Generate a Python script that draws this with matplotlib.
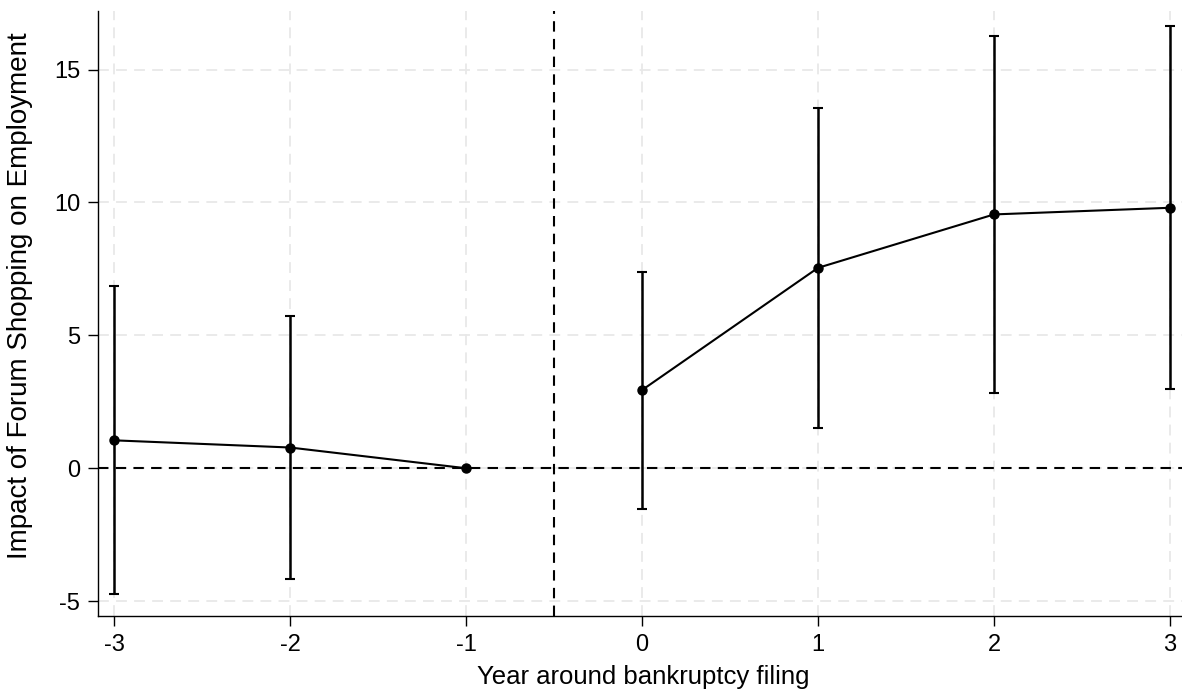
import numpy as np
from matplotlib import pyplot as plt

# event-study estimates
years = [-3, -2, -1, 0, 1, 2, 3]
coef = [1.05, 0.78, 0.0, 2.94, 7.54, 9.55, 9.80]
ci_low = [-4.75, -4.17, 0.0, -1.54, 1.51, 2.83, 2.97]
ci_high = [6.87, 5.73, 0.0, 7.40, 13.54, 16.28, 16.63]

yticks = [-5, 0, 5, 10, 15]
tick_labels = ["-5", "0", "5", "10", "15"]

plt.rcParams['font.family'] = ['Liberation Sans', 'DejaVu Sans']

fig = plt.figure(figsize=(11.82, 6.94), dpi=100)
ax = fig.add_axes([0.083, 0.112, 0.917, 0.872])

# grid
for x in years:
    ax.axvline(x, color='#e8e8e8', lw=1.3, ls=(0, (6, 4)), zorder=0)
for y in yticks:
    ax.axhline(y, color='#e8e8e8', lw=1.3, ls=(0, (6, 4)), zorder=0)

# reference lines
ax.axhline(0, color='black', lw=1.5, ls=(0, (5, 3.5)), zorder=1)
ax.axvline(-0.5, color='black', lw=1.5, ls=(0, (5, 3.5)), zorder=1)

# confidence intervals (skip the omitted year)
coef_a = np.array(coef)
lo = np.array(ci_low)
hi = np.array(ci_high)
mask = hi > lo
ax.errorbar(np.array(years)[mask], coef_a[mask],
            yerr=[coef_a[mask] - lo[mask], hi[mask] - coef_a[mask]],
            fmt='none', ecolor='black', elinewidth=1.8, capsize=3.3, capthick=1.5, zorder=2)

# point estimates, before and after filing
pre = [i for i, yr in enumerate(years) if yr < 0]
post = [i for i, yr in enumerate(years) if yr >= 0]
for idx in (pre, post):
    ax.plot([years[i] for i in idx], [coef[i] for i in idx], color='black', lw=1.5,
            marker='o', markersize=6.5, zorder=3)

ax.set_xlim(-3.09, 3.068)
ax.set_ylim(-5.57, 17.2)
ax.set_xticks(years)
ax.set_xticklabels([str(y) for y in years])
ax.set_yticks(yticks)
ax.set_yticklabels(tick_labels)
ax.tick_params(direction='out', length=7, width=1, labelsize=17, pad=6)

for side in ('top', 'right'):
    ax.spines[side].set_visible(False)
for side in ('left', 'bottom'):
    ax.spines[side].set_linewidth(1)

ax.set_xlabel("Year around bankruptcy filing", fontsize=18.5)
ax.set_ylabel("Impact of Forum Shopping on Employment", fontsize=20)
ax.xaxis.set_label_coords(0.503, -0.08)
ax.yaxis.set_label_coords(-0.06, 0.529)

plt.savefig("out.png", dpi=100)
